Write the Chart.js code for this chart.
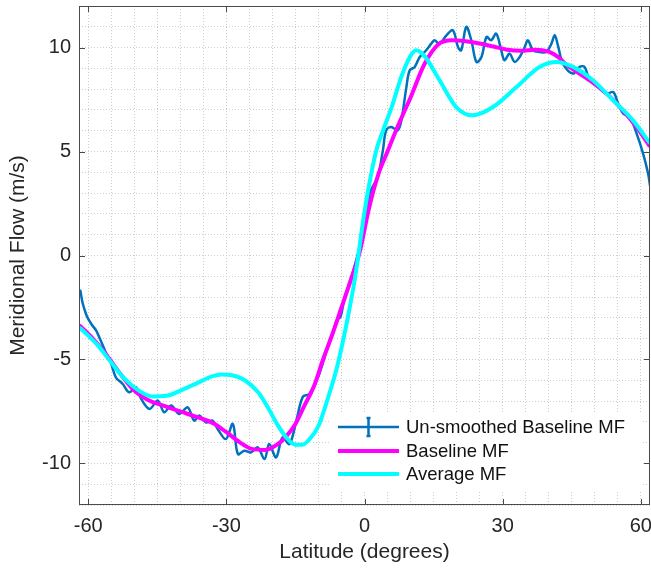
<!DOCTYPE html>
<html>
<head>
<meta charset="utf-8">
<title>Meridional Flow</title>
<script src="https://cdn.jsdelivr.net/npm/chart.js@4.4.1/dist/chart.umd.min.js"></script>
<style>
  html, body { margin: 0; padding: 0; background: #fff; }
  canvas { display: block; }
</style>
</head>
<body>
<canvas id="mfChart" width="651" height="568"></canvas>
<script>
// Un-smoothed baseline meridional flow (latitude in degrees, flow in m/s)
const rawLat = [-61.7, -61.2, -60.5, -60.0, -59.1, -58.3, -57.6, -56.2, -55.1, -54.0, -52.5, -51.1,
  -49.6, -48.5, -46.7, -44.9, -43.5, -42.0, -40.2, -38.4, -37.0, -35.9, -34.4, -33.0, -31.9,
  -30.1, -28.6, -27.5, -26.1, -24.6, -23.2, -21.7, -20.7, -19.2, -17.8, -16.3, -14.8, -13.4,
  -12.0, -10.1, -8.0, -7.0, -6.0, -5.2, -4.4, -3.4, -2.4, -1.4, -0.5, 0.3, 1.1, 2.0, 2.9,
  4.0, 4.7, 5.8, 7.2, 8.0, 9.1, 9.8, 10.9, 12.0, 13.4, 14.5, 15.2, 16.3, 17.8, 19.2, 20.3,
  21.0, 22.1, 23.2, 24.3, 25.4, 26.5, 27.5, 28.6, 29.7, 30.4, 31.5, 32.6, 33.7, 34.8, 35.5,
  36.6, 38.0, 39.5, 40.6, 41.3, 42.0, 43.1, 45.3, 46.7, 47.8, 48.9, 50.7, 52.5, 54.0, 55.1,
  56.2, 57.6, 59.1, 60.5, 61.6, 62.0];
const rawFlow = [-1.7, -2.3, -2.8, -3.05, -3.37, -3.6, -3.93, -4.65, -5.14, -5.86, -6.18, -6.58,
  -6.34, -6.9, -7.38, -6.98, -7.54, -7.22, -7.62, -7.3, -7.94, -7.7, -8.03, -7.94, -8.34,
  -8.83, -8.1, -9.55, -9.39, -9.47, -9.23, -9.79, -9.07, -9.71, -8.75, -9.07, -7.94, -6.8,
  -6.66, -5.86, -4.4, -3.8, -3.1, -2.95, -2.1, -1.4, -0.7, 0.1, 0.9, 1.9, 2.97, 3.4, 3.77,
  5.06, 6.02, 6.18, 6.02, 6.5, 8.1, 8.9, 9.07, 9.55, 9.87, 10.19, 10.35, 10.19, 10.59, 10.83, 10.03,
  9.87, 10.99, 10.35, 9.31, 9.55, 10.51, 10.35, 10.67, 9.87, 9.39, 9.71, 9.31, 9.55, 10.03, 10.35,
  9.87, 9.79, 9.79, 10.19, 10.59, 10.11, 9.23, 8.75, 9.07, 9.07, 8.43, 8.1, 7.78, 7.86, 7.3,
  6.82, 6.66, 5.86, 4.9, 3.93, 3.37];

// Smoothed baseline
const baseLat = [-61.7, -59, -56, -53, -50, -47, -44, -40, -36, -33, -30, -27, -24.5, -21.5,
  -19, -17, -15, -13, -11, -9, -7, -5, -3, -1, 1, 3, 5, 7, 10, 13, 16, 19, 22, 25, 28, 31,
  34, 37, 40, 42, 44, 47, 50, 53, 56, 59, 61.8];
const baseFlow = [-3.4, -4.0, -4.8, -5.7, -6.5, -6.95, -7.2, -7.5, -7.8, -8.05, -8.5, -9.0, -9.3, -9.35,
  -9.1, -8.7, -8.1, -7.2, -6.3, -5.0, -3.8, -2.5, -1.2, 0.2, 2.3, 3.9, 5.0, 6.1, 7.6, 9.2, 10.15, 10.35,
  10.3, 10.2, 10.05, 9.9, 9.85, 9.9, 9.8, 9.55, 9.15, 8.7, 8.25, 7.7, 7.0, 6.2, 5.3];

// Average
const avgLat = [-61.7, -58, -55, -52, -49, -46, -43, -40, -36, -33, -31, -29, -26, -23, -21, -19,
  -17, -15, -13.5, -12, -10, -8, -6, -4, -2, 0, 2.5, 4, 6, 8, 10, 11.2, 13, 16.3, 19.9, 23.5,
  27.9, 33, 38, 41.7, 45.3, 49.6, 54, 58.3, 61.8];
const avgFlow = [-3.5, -4.3, -5.15, -5.95, -6.5, -6.78, -6.75, -6.5, -6.1, -5.8, -5.72, -5.75, -6.0,
  -6.6, -7.3, -8.1, -8.75, -9.1, -9.1, -8.85, -8.2, -6.9, -5.4, -3.4, -1.0, 2.1, 5.0, 6.0, 7.2, 8.6,
  9.6, 9.87, 9.6, 8.43, 7.14, 6.74, 7.14, 8.1, 9.07, 9.31, 9.07, 8.43, 7.46, 6.5, 5.45];

const seriesNames = ['Un-smoothed Baseline MF', 'Baseline MF', 'Average MF'];
const seriesColors = ['#0072BD', '#FF00FF', '#00FFFF'];
const xTickLabels = [-60, -30, 0, 30, 60];
const yTickLabels = [-10, -5, 0, 5, 10];

const FONT = "'Liberation Sans', Arial, Helvetica, sans-serif";
const INK = '#262626';

const toPoints = (xs, ys) => xs.map((x, i) => ({ x: x, y: ys[i] }));

function range(a, b, step) {
  const out = [];
  for (let v = a; v <= b + 1e-9; v += step) out.push(+v.toFixed(6));
  return out;
}

// fixed scale sizes, and no extra room for overhanging tick labels
function fixSize(s, key, size) {
  s[key] = size;
  s.paddingLeft = s.paddingRight = s.paddingTop = s.paddingBottom = 0;
}

// box round the axes, with short inward ticks on all four sides
const axesBox = {
  id: 'axesBox',
  afterDatasetsDraw(chart) {
    const { ctx, chartArea: a, scales } = chart;
    const len = 6;
    ctx.save();
    ctx.strokeStyle = '#4a4a4a';
    ctx.lineWidth = 1;
    ctx.beginPath();
    xTickLabels.forEach(v => {
      const px = Math.round(scales.x.getPixelForValue(v)) + 0.5;
      ctx.moveTo(px, a.bottom); ctx.lineTo(px, a.bottom - len);
      ctx.moveTo(px, a.top); ctx.lineTo(px, a.top + len);
    });
    yTickLabels.forEach(v => {
      const py = Math.round(scales.y.getPixelForValue(v)) + 0.5;
      ctx.moveTo(a.left, py); ctx.lineTo(a.left + len, py);
      ctx.moveTo(a.right, py); ctx.lineTo(a.right - len, py);
    });
    ctx.stroke();
    ctx.strokeRect(Math.round(a.left) + 0.5, Math.round(a.top) + 0.5,
      Math.round(a.right - a.left) - 1, Math.round(a.bottom - a.top) - 1);
    ctx.restore();
  }
};

// legend in the lower right corner of the axes
const cornerLegend = {
  id: 'cornerLegend',
  afterDraw(chart) {
    const { ctx, chartArea: a } = chart;
    const lineX0 = a.right - 312, lineX1 = a.right - 251, textX = a.right - 244;
    const rows = [a.bottom - 78, a.bottom - 54, a.bottom - 31];
    ctx.save();
    ctx.fillStyle = '#fff';
    ctx.fillRect(a.right - 320, a.bottom - 93, 312, 79);
    chart.data.datasets.forEach((ds, i) => {
      const y = rows[i];
      ctx.strokeStyle = ds.borderColor;
      ctx.lineWidth = ds.borderWidth;
      ctx.beginPath();
      ctx.moveTo(lineX0, y); ctx.lineTo(lineX1, y);
      if (i === 0) {
        const mx = (lineX0 + lineX1) / 2;
        ctx.moveTo(mx, y - 9); ctx.lineTo(mx, y + 9);
        ctx.moveTo(mx - 2, y - 9); ctx.lineTo(mx + 2, y - 9);
        ctx.moveTo(mx - 2, y + 9); ctx.lineTo(mx + 2, y + 9);
      }
      ctx.stroke();
      ctx.fillStyle = '#111';
      ctx.font = '18.5px ' + FONT;
      ctx.textBaseline = 'middle';
      ctx.textAlign = 'left';
      ctx.fillText(ds.label, textX, y + 1);
    });
    ctx.restore();
  }
};

new Chart(document.getElementById('mfChart'), {
  type: 'line',
  data: {
    datasets: [
      { label: seriesNames[0], data: toPoints(rawLat, rawFlow), borderColor: seriesColors[0],
        borderWidth: 2.5, tension: 0.35, order: 3 },
      { label: seriesNames[1], data: toPoints(baseLat, baseFlow), borderColor: seriesColors[1],
        borderWidth: 4, cubicInterpolationMode: 'monotone', order: 2 },
      { label: seriesNames[2], data: toPoints(avgLat, avgFlow), borderColor: seriesColors[2],
        borderWidth: 4, cubicInterpolationMode: 'monotone', order: 1 }
    ]
  },
  options: {
    responsive: false,
    devicePixelRatio: 1,
    animation: false,
    layout: { padding: { top: 6, right: 1, left: 0, bottom: 0 } },
    elements: { point: { radius: 0 }, line: { fill: false, borderCapStyle: 'round', borderJoinStyle: 'round' } },
    plugins: { legend: { display: false }, tooltip: { enabled: false } },
    scales: {
      x: {
        type: 'linear',
        min: -62, max: 62,
        afterBuildTicks: s => { s.ticks = range(-60, 60, 5).map(v => ({ value: v })); },
        afterFit: s => fixSize(s, 'height', 63),
        grid: { color: '#cfcfcf', lineWidth: 1, drawTicks: false },
        border: { display: false, dash: [1, 2] },
        ticks: {
          autoSkip: false, maxRotation: 0, padding: 9, color: INK,
          font: { family: FONT, size: 20 },
          callback: v => xTickLabels.includes(v) ? String(v) : ''
        },
        title: { display: true, text: 'Latitude (degrees)', color: INK,
          font: { family: FONT, size: 21 }, padding: { top: 0, bottom: 3 } }
      },
      y: {
        type: 'linear',
        min: -12, max: 12,
        afterBuildTicks: s => { s.ticks = range(-12, 12, 1).map(v => ({ value: v })); },
        afterFit: s => fixSize(s, 'width', 79),
        grid: { color: '#cfcfcf', lineWidth: 1, drawTicks: false },
        border: { display: false, dash: [1, 2] },
        ticks: {
          autoSkip: false, padding: 8, color: INK,
          font: { family: FONT, size: 20 },
          callback: v => yTickLabels.includes(v) ? String(v) : ''
        },
        title: { display: true, text: 'Meridional Flow (m/s)', color: INK,
          font: { family: FONT, size: 21 }, padding: { top: 6, bottom: 0 } }
      }
    }
  },
  plugins: [axesBox, cornerLegend]
});
</script>
</body>
</html>
